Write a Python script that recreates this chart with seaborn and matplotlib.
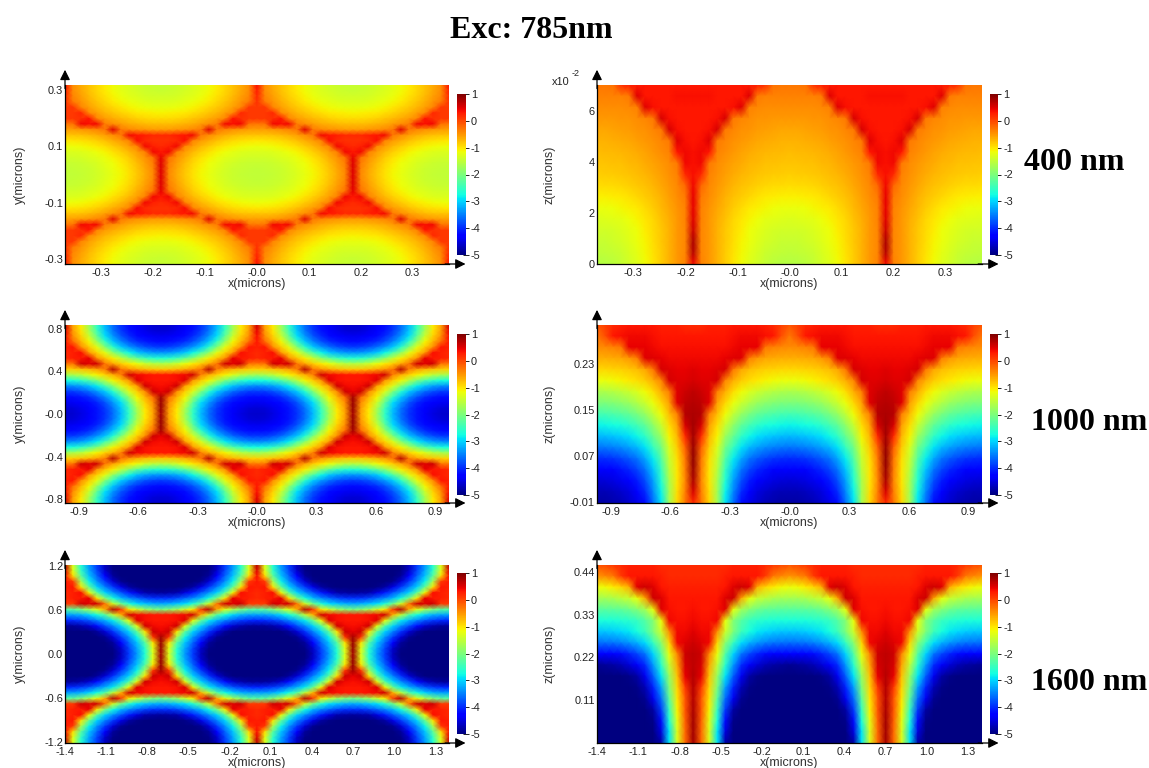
import numpy as np
import seaborn as sns
import matplotlib.pyplot as plt

# Field values (log scale).
# xy tables: top edge to centre row, left cusp column to the next cusp.
XY_400 = [
    [0.35, -0.44, -0.62, -0.78, -0.92, -1.04, -1.15, -1.24, -1.32, -1.38, -1.42, -1.44, -1.45],
    [0.25, -0.43, -0.6, -0.76, -0.9, -1.03, -1.14, -1.23, -1.3, -1.36, -1.4, -1.43, -1.44],
    [0.2, -0.39, -0.56, -0.72, -0.86, -0.99, -1.09, -1.18, -1.26, -1.32, -1.36, -1.38, -1.39],
    [0.15, -0.32, -0.49, -0.65, -0.79, -0.91, -1.02, -1.11, -1.19, -1.25, -1.29, -1.31, -1.32],
    [0.1, 0.1, -0.39, -0.55, -0.69, -0.81, -0.92, -1.01, -1.09, -1.15, -1.19, -1.21, -1.22],
    [0.1, 0.1, 0.2, -0.42, -0.56, -0.69, -0.79, -0.88, -0.96, -1.02, -1.06, -1.08, -1.09],
    [0.1, 0.1, 0.15, 0.3, -0.4, -0.53, -0.64, -0.73, -0.8, -0.86, -0.9, -0.93, -0.93],
    [-0.29, -0.28, 0.4, 0.35, 0.4, -0.34, -0.45, -0.54, -0.62, -0.67, -0.72, -0.74, -0.75],
    [-0.56, -0.55, -0.52, -0.47, -0.4, -0.32, 0.5, -0.33, -0.4, -0.46, -0.5, -0.53, -0.53],
    [-0.8, -0.8, -0.77, -0.72, -0.65, -0.56, -0.45, -0.33, 0.4, 0.3, 0.25, 0.2, 0.2],
    [-1.02, -1.01, -0.98, -0.93, -0.86, -0.77, -0.66, -0.54, -0.39, 0.35, 0.2, 0.15, 0.15],
    [-1.18, -1.17, -1.15, -1.1, -1.03, -0.95, -0.84, -0.72, -0.57, -0.4, 0.4, 0.25, 0.2],
    [-1.31, -1.3, -1.28, -1.23, -1.17, -1.09, -0.99, -0.86, -0.72, -0.55, -0.36, 0.4, 0.3],
    [-1.39, -1.38, -1.36, -1.32, -1.26, -1.19, -1.09, -0.98, -0.83, -0.66, -0.48, -0.27, 0.45],
    [-1.46, -1.45, -1.43, -1.39, -1.33, -1.25, -1.16, -1.05, -0.91, -0.74, -0.56, -0.35, 0.5],
    [-1.49, -1.48, -1.46, -1.42, -1.36, -1.29, -1.2, -1.1, -0.96, -0.79, -0.61, -0.4, 0.5],
    [-1.5, -1.49, -1.47, -1.43, -1.37, -1.3, -1.22, -1.11, -0.97, -0.81, -0.62, -0.42, 0.5],
]
XY_1000 = [
    [0.6, -0.58, -1.04, -1.74, -2.55, -3.17, -3.61, -3.96, -4.18, -4.35, -4.48, -4.57, -4.6],
    [0.45, -0.54, -1.0, -1.65, -2.46, -3.1, -3.55, -3.92, -4.14, -4.31, -4.43, -4.52, -4.55],
    [0.35, -0.43, -0.88, -1.42, -2.21, -2.93, -3.38, -3.75, -4.01, -4.18, -4.31, -4.38, -4.4],
    [0.3, -0.24, -0.7, -1.11, -1.81, -2.53, -3.08, -3.46, -3.76, -3.98, -4.1, -4.17, -4.2],
    [0.25, 0.3, -0.43, -0.84, -1.25, -1.95, -2.57, -3.04, -3.35, -3.59, -3.76, -3.87, -3.9],
    [0.2, 0.25, 0.35, -0.51, -0.88, -1.23, -1.84, -2.35, -2.79, -3.06, -3.23, -3.34, -3.37],
    [0.2, 0.25, 0.3, 0.45, -0.47, -0.8, -1.08, -1.46, -1.88, -2.21, -2.45, -2.6, -2.65],
    [-0.29, -0.27, 0.6, 0.5, 0.6, -0.31, -0.59, -0.83, -1.03, -1.18, -1.4, -1.54, -1.59],
    [-0.88, -0.86, -0.8, -0.7, -0.55, -0.35, 0.7, -0.27, -0.47, -0.6, -0.72, -0.8, -0.82],
    [-1.72, -1.67, -1.54, -1.3, -1.09, -0.89, -0.65, -0.37, 0.6, 0.4, 0.35, 0.3, 0.3],
    [-2.75, -2.71, -2.56, -2.31, -1.98, -1.56, -1.13, -0.84, -0.51, 0.5, 0.35, 0.3, 0.3],
    [-3.43, -3.39, -3.29, -3.11, -2.86, -2.42, -1.91, -1.3, -0.91, -0.55, 0.6, 0.4, 0.35],
    [-3.92, -3.9, -3.8, -3.62, -3.38, -3.07, -2.62, -2.0, -1.3, -0.87, -0.45, 0.6, 0.45],
    [-4.2, -4.18, -4.11, -4.0, -3.78, -3.47, -3.1, -2.55, -1.84, -1.12, -0.71, -0.25, 0.8],
    [-4.4, -4.38, -4.31, -4.19, -4.02, -3.76, -3.38, -2.94, -2.22, -1.43, -0.89, -0.43, 0.85],
    [-4.55, -4.52, -4.43, -4.31, -4.14, -3.92, -3.55, -3.1, -2.47, -1.66, -1.0, -0.54, 0.85],
    [-4.6, -4.57, -4.48, -4.35, -4.15, -3.96, -3.61, -3.17, -2.55, -1.74, -1.04, -0.58, 0.8],
]
XY_1600 = [
    [0.7, -1.3, -2.65, -3.35, -3.9, -4.65, -5.0, -5.0, -5.0, -5.0, -5.0, -5.0, -5.0],
    [0.5, -1.25, -2.55, -3.25, -3.85, -4.6, -4.95, -5.0, -5.0, -5.0, -5.0, -5.0, -5.0],
    [0.35, -0.95, -2.25, -3.1, -3.65, -4.3, -4.85, -5.0, -5.0, -5.0, -5.0, -5.0, -5.0],
    [0.3, 0.1, -1.65, -2.8, -3.4, -3.9, -4.55, -4.9, -5.0, -5.0, -5.0, -5.0, -5.0],
    [0.25, 0.3, -1.0, -2.15, -3.0, -3.5, -3.9, -4.45, -4.8, -4.95, -5.0, -5.0, -5.0],
    [0.2, 0.25, 0.35, -1.15, -2.25, -3.0, -3.4, -3.75, -4.1, -4.5, -4.75, -4.8, -4.85],
    [0.2, 0.25, 0.3, 0.45, -1.05, -2.0, -2.75, -3.15, -3.45, -3.65, -3.85, -3.95, -3.95],
    [0.1, 0.1, 0.6, 0.5, 0.6, -0.3, -1.35, -2.1, -2.65, -2.95, -3.1, -3.2, -3.25],
    [-2.3, -2.25, -2.0, -1.65, -1.25, -0.6, 0.7, 0.1, -1.05, -1.4, -1.75, -1.95, -2.05],
    [-3.3, -3.3, -3.2, -3.0, -2.75, -2.3, -1.5, -0.7, 0.6, 0.4, 0.35, 0.3, 0.3],
    [-4.05, -4.0, -3.9, -3.75, -3.5, -3.2, -2.85, -2.15, -1.15, 0.5, 0.35, 0.3, 0.3],
    [-4.85, -4.85, -4.75, -4.6, -4.2, -3.8, -3.45, -3.0, -2.35, -1.25, 0.6, 0.4, 0.35],
    [-5.0, -5.0, -5.0, -5.0, -4.85, -4.55, -3.95, -3.5, -3.0, -2.2, -1.0, 0.6, 0.45],
    [-5.0, -5.0, -5.0, -5.0, -5.0, -4.9, -4.55, -3.9, -3.4, -2.8, -1.7, 0.1, 0.8],
    [-5.0, -5.0, -5.0, -5.0, -5.0, -5.0, -4.85, -4.3, -3.65, -3.1, -2.3, -1.0, 0.85],
    [-5.0, -5.0, -5.0, -5.0, -5.0, -5.0, -4.95, -4.6, -3.85, -3.25, -2.6, -1.25, 0.85],
    [-5.0, -5.0, -5.0, -5.0, -5.0, -5.0, -5.0, -4.65, -3.9, -3.35, -2.65, -1.3, 0.8],
]
# xz tables: top row to bottom row, centre of the dome to the cusp.
XZ_400 = [
    [-0.3, -0.3, -0.28, 0.15, 0.25, 0.28, 0.3, 0.3, 0.3, 0.3, 0.3, 0.3, 0.3],
    [-0.38, -0.38, -0.37, -0.36, -0.33, 0.5, 0.3, 0.3, 0.3, 0.3, 0.35, 0.35, 0.35],
    [-0.45, -0.45, -0.44, -0.43, -0.41, -0.37, 0.5, 0.35, 0.3, 0.3, 0.3, 0.3, 0.3],
    [-0.52, -0.52, -0.51, -0.5, -0.48, -0.45, -0.4, -0.33, 0.55, 0.35, 0.3, 0.3, 0.3],
    [-0.6, -0.6, -0.58, -0.57, -0.54, -0.5, -0.46, -0.4, -0.33, 0.55, 0.35, 0.3, 0.3],
    [-0.68, -0.67, -0.66, -0.64, -0.61, -0.57, -0.52, -0.46, -0.4, -0.33, 0.5, 0.35, 0.3],
    [-0.74, -0.73, -0.72, -0.7, -0.67, -0.63, -0.58, -0.52, -0.45, -0.38, 0.3, 0.4, 0.35],
    [-0.8, -0.79, -0.78, -0.76, -0.73, -0.69, -0.64, -0.58, -0.51, -0.43, -0.33, 0.4, 0.35],
    [-0.86, -0.85, -0.84, -0.82, -0.79, -0.75, -0.7, -0.63, -0.55, -0.47, -0.38, 0.2, 0.35],
    [-0.95, -0.94, -0.93, -0.9, -0.87, -0.82, -0.76, -0.69, -0.6, -0.51, -0.41, -0.2, 0.4],
    [-1.08, -1.07, -1.05, -1.02, -0.98, -0.92, -0.85, -0.77, -0.67, -0.56, -0.45, -0.32, 0.45],
    [-1.2, -1.19, -1.17, -1.13, -1.08, -1.02, -0.94, -0.84, -0.73, -0.61, -0.48, -0.36, 0.45],
    [-1.3, -1.29, -1.27, -1.23, -1.17, -1.1, -1.01, -0.9, -0.78, -0.65, -0.51, -0.38, 0.5],
    [-1.38, -1.37, -1.35, -1.3, -1.24, -1.16, -1.06, -0.94, -0.81, -0.67, -0.52, -0.39, 0.6],
    [-1.45, -1.44, -1.41, -1.36, -1.29, -1.2, -1.09, -0.96, -0.82, -0.67, -0.52, -0.39, 0.75],
    [-1.52, -1.5, -1.47, -1.42, -1.34, -1.24, -1.12, -0.98, -0.83, -0.67, -0.52, -0.39, 0.7],
    [-1.6, -1.58, -1.54, -1.48, -1.39, -1.28, -1.15, -1.0, -0.84, -0.68, -0.52, -0.38, 0.4],
]
XZ_1000 = [
    [-0.1, 0.05, 0.2, 0.25, 0.3, 0.3, 0.3, 0.3, 0.25, 0.25, 0.25, 0.2, 0.2],
    [-0.3, -0.05, 0.3, 0.35, 0.4, 0.4, 0.4, 0.35, 0.3, 0.3, 0.3, 0.3, 0.3],
    [-0.45, -0.42, -0.38, -0.3, 0.45, 0.45, 0.45, 0.4, 0.35, 0.35, 0.35, 0.35, 0.35],
    [-0.65, -0.65, -0.62, -0.6, -0.52, -0.35, 0.5, 0.5, 0.45, 0.4, 0.4, 0.4, 0.4],
    [-0.9, -0.9, -0.88, -0.86, -0.82, -0.75, -0.6, -0.3, 0.55, 0.5, 0.45, 0.45, 0.5],
    [-1.2, -1.18, -1.15, -1.1, -1.03, -0.95, -0.85, -0.65, -0.4, 0.55, 0.5, 0.5, 0.55],
    [-1.65, -1.63, -1.6, -1.53, -1.43, -1.3, -1.15, -0.95, -0.65, -0.35, 0.5, 0.6, 0.65],
    [-2.0, -1.98, -1.95, -1.88, -1.78, -1.62, -1.42, -1.2, -0.9, -0.55, 0.5, 0.65, 0.7],
    [-2.4, -2.38, -2.35, -2.28, -2.17, -2.02, -1.8, -1.5, -1.15, -0.75, -0.35, 0.7, 0.75],
    [-2.8, -2.78, -2.75, -2.68, -2.58, -2.42, -2.2, -1.85, -1.45, -0.95, -0.55, 0.55, 0.8],
    [-3.15, -3.13, -3.1, -3.03, -2.93, -2.78, -2.55, -2.15, -1.75, -1.1, -0.7, 0.2, 0.8],
    [-3.55, -3.53, -3.5, -3.42, -3.3, -3.15, -2.9, -2.5, -2.05, -1.3, -0.85, -0.15, 0.85],
    [-4.0, -3.98, -3.93, -3.85, -3.72, -3.55, -3.25, -2.85, -2.3, -1.45, -0.95, -0.3, 0.9],
    [-4.3, -4.28, -4.23, -4.15, -4.02, -3.85, -3.55, -3.1, -2.5, -1.55, -1.0, -0.35, 0.85],
    [-4.55, -4.52, -4.47, -4.4, -4.28, -4.1, -3.8, -3.3, -2.65, -1.65, -1.0, -0.4, 0.75],
    [-4.7, -4.7, -4.65, -4.6, -4.5, -4.3, -4.0, -3.45, -2.8, -1.7, -0.95, -0.35, 0.55],
    [-4.8, -4.8, -4.75, -4.7, -4.6, -4.45, -4.2, -3.6, -2.9, -1.7, -0.9, -0.3, 0.2],
]
XZ_1600 = [
    [-0.1, 0.0, 0.1, 0.2, 0.25, 0.25, 0.25, 0.25, 0.2, 0.2, 0.2, 0.2, 0.2],
    [-0.5, -0.4, -0.3, 0.1, 0.3, 0.3, 0.3, 0.3, 0.25, 0.2, 0.2, 0.2, 0.2],
    [-1.2, -1.15, -1.05, -0.9, -0.65, 0.5, 0.6, 0.5, 0.3, 0.25, 0.25, 0.25, 0.25],
    [-1.7, -1.7, -1.65, -1.55, -1.45, -1.2, -0.6, 0.6, 0.5, 0.3, 0.3, 0.3, 0.3],
    [-2.25, -2.25, -2.23, -2.2, -2.1, -1.95, -1.7, -1.2, 0.5, 0.35, 0.3, 0.3, 0.35],
    [-2.7, -2.7, -2.68, -2.65, -2.6, -2.5, -2.3, -1.95, -1.2, 0.4, 0.35, 0.35, 0.4],
    [-3.1, -3.08, -3.05, -2.98, -2.87, -2.72, -2.45, -2.0, -1.4, -0.45, 0.4, 0.4, 0.5],
    [-3.6, -3.58, -3.55, -3.48, -3.36, -3.2, -2.95, -2.5, -1.9, -0.9, 0.4, 0.5, 0.6],
    [-4.3, -4.28, -4.25, -4.18, -4.05, -3.85, -3.55, -3.0, -2.3, -1.2, -0.4, 0.6, 0.65],
    [-4.9, -4.85, -4.8, -4.7, -4.55, -4.35, -4.0, -3.35, -2.6, -1.5, -0.6, 0.55, 0.65],
    [-5.0, -5.0, -5.0, -5.0, -4.95, -4.8, -4.4, -3.7, -2.9, -1.8, -0.8, 0.45, 0.7],
    [-5.0, -5.0, -5.0, -5.0, -5.0, -4.95, -4.7, -4.05, -3.3, -2.0, -0.9, 0.1, 0.7],
    [-5.0, -5.0, -5.0, -5.0, -5.0, -5.0, -4.9, -4.4, -3.6, -2.25, -1.0, -0.1, 0.7],
    [-5.0, -5.0, -5.0, -5.0, -5.0, -5.0, -5.0, -4.8, -3.9, -2.5, -1.1, -0.1, 0.75],
    [-5.0, -5.0, -5.0, -5.0, -5.0, -5.0, -5.0, -4.95, -4.2, -2.7, -1.25, -0.15, 0.8],
    [-5.0, -5.0, -5.0, -5.0, -5.0, -5.0, -5.0, -5.0, -4.5, -2.9, -1.3, -0.2, 0.8],
    [-5.0, -5.0, -5.0, -5.0, -5.0, -5.0, -5.0, -5.0, -4.8, -2.9, -1.3, -0.2, 0.8],
]

# Axis labels
X_400 = ["-0.3", "-0.2", "-0.1", "-0.0", "0.1", "0.2", "0.3"]
X_1000 = ["-0.9", "-0.6", "-0.3", "-0.0", "0.3", "0.6", "0.9"]
X_1600 = ["-1.4", "-1.1", "-0.8", "-0.5", "-0.2", "0.1", "0.4", "0.7", "1.0", "1.3"]
Y_400 = ["0.3", "0.1", "-0.1", "-0.3"]
Y_1000 = ["0.8", "0.4", "-0.0", "-0.4", "-0.8"]
Y_1600 = ["1.2", "0.6", "0.0", "-0.6", "-1.2"]
Z_400 = ["6", "4", "2", "0"]
Z_1000 = ["0.23", "0.15", "0.07", "-0.01"]
Z_1600 = ["0.44", "0.33", "0.22", "0.11"]
CBAR_TICKS = [1, 0, -1, -2, -3, -4, -5]
CBAR_LABELS = ["1", "0", "-1", "-2", "-3", "-4", "-5"]
ROW_TITLES = ["400 nm", "1000 nm", "1600 nm"]

W, H = 1149, 768
TICK_COLOR = "#222222"


def px_axes(fig, left, top, right, bottom):
    return fig.add_axes([left / W, 1 - bottom / H, (right - left) / W, (bottom - top) / H])


def mirror_xy(table):
    half = np.array(table, dtype=float)
    half = np.hstack([half, half[:, -2::-1]])
    full = np.hstack([half[:, :0:-1], half])
    return np.vstack([full, full[-2::-1]])


def mirror_xz(table):
    half = np.array(table, dtype=float)
    half = np.hstack([half, half[:, -2::-1]])
    return np.hstack([half[:, :0:-1], half])


def minor_range(lo, hi, step):
    first = np.ceil(lo / step)
    last = np.floor(hi / step)
    return np.arange(first, last + 1) * step


def draw_panel(fig, box, cbox, grid, xlim, ylim, xlabels, ylabels, xminor, yminor, ylabel, ylabel_x):
    ax = px_axes(fig, *box)
    cax = px_axes(fig, *cbox)
    sns.heatmap(grid, ax=ax, cmap="jet", vmin=-5, vmax=1, shading="gouraud",
                xticklabels=False, yticklabels=False, cbar=True, cbar_ax=cax,
                cbar_kws={"ticks": CBAR_TICKS})
    rows, cols = grid.shape
    ax.set_xlim(0, cols - 1)
    ax.set_ylim(rows - 1, 0)

    # data units to grid index
    def gx(v):
        return (np.asarray(v, dtype=float) - xlim[0]) / (xlim[1] - xlim[0]) * (cols - 1)

    def gy(v):
        return (ylim[1] - np.asarray(v, dtype=float)) / (ylim[1] - ylim[0]) * (rows - 1)

    ax.set_xticks(gx([float(s) for s in xlabels]))
    ax.set_xticklabels(xlabels)
    ax.set_yticks(gy([float(s) for s in ylabels]))
    ax.set_yticklabels(ylabels)
    if xminor:
        ax.set_xticks(gx(minor_range(xlim[0], xlim[1], xminor)), minor=True)
    if yminor:
        ax.set_yticks(gy(minor_range(ylim[0], ylim[1], yminor)), minor=True)

    ax.tick_params(which="major", direction="in", length=3.5, width=0.7, color=TICK_COLOR,
                   labelsize=7.9, labelcolor=TICK_COLOR)
    ax.tick_params(which="minor", direction="in", length=2.2, width=0.6, color=TICK_COLOR)
    ax.tick_params(axis="x", which="major", pad=3)
    ax.tick_params(axis="y", which="major", pad=1.5)

    for side in ["left", "bottom"]:
        ax.spines[side].set_visible(True)
        ax.spines[side].set_linewidth(0.9)
        ax.spines[side].set_color("black")

    # arrow heads on the axes
    arrow = dict(arrowstyle="-|>", color="black", lw=0.9, shrinkA=0, shrinkB=0, mutation_scale=15)
    ax.annotate("", xy=(0, 1.085), xytext=(0, 0.98), xycoords="axes fraction", arrowprops=arrow)
    ax.annotate("", xy=(1.043, 0), xytext=(0.99, 0), xycoords="axes fraction", arrowprops=arrow)

    ax.set_xlabel("x(microns)", fontsize=9, color="#333333")
    ax.set_ylabel(ylabel, fontsize=9, color="#333333")
    ax.xaxis.set_label_coords(0.5, -0.078)
    ax.yaxis.set_label_coords(ylabel_x, 0.5)

    cax.set_yticks(CBAR_TICKS)
    cax.set_yticklabels(CBAR_LABELS)
    cax.tick_params(direction="inout", length=5, width=0.7, color=TICK_COLOR, pad=1,
                    labelsize=7.9, labelcolor=TICK_COLOR)
    return ax


sns.set_theme(style="ticks")
plt.rcParams["font.family"] = ["Liberation Sans", "DejaVu Sans"]

fig = plt.figure(figsize=(W / 100, H / 100), dpi=100)

LEFT_X = (65, 449)
RIGHT_X = (597, 982)
LEFT_CB = (457, 466)
RIGHT_CB = (990, 998.5)
ROWS_Y = [(85, 264), (325, 503), (565, 743)]
CBARS_Y = [(94, 255), (334, 495), (573, 734)]

xy_tables = [XY_400, XY_1000, XY_1600]
xz_tables = [XZ_400, XZ_1000, XZ_1600]
x_labels = [X_400, X_1000, X_1600]
xlims = [(-0.37, 0.37), (-0.968, 0.968), (-1.4, 1.4)]
x_minor = [None, 0.1, None]
y_labels = [Y_400, Y_1000, Y_1600]
ylims = [(-0.317, 0.317), (-0.837, 0.837), (-1.22, 1.22)]
y_minor = [0.1, 0.2, 0.1]
z_labels = [Z_400, Z_1000, Z_1600]
zlims = [(0, 7.02), (-0.0117, 0.298), (0, 0.458)]
z_minor = [1, 0.01, 0.01]

for i in range(3):
    top, bottom = ROWS_Y[i]
    ctop, cbottom = CBARS_Y[i]
    draw_panel(fig, (LEFT_X[0], top, LEFT_X[1], bottom), (LEFT_CB[0], ctop, LEFT_CB[1], cbottom),
               mirror_xy(xy_tables[i]), xlims[i], ylims[i], x_labels[i], y_labels[i],
               x_minor[i], y_minor[i], "y(microns)", -0.102)
    draw_panel(fig, (RIGHT_X[0], top, RIGHT_X[1], bottom), (RIGHT_CB[0], ctop, RIGHT_CB[1], cbottom),
               mirror_xz(xz_tables[i]), xlims[i], zlims[i], x_labels[i], z_labels[i],
               x_minor[i], z_minor[i], "z(microns)", -0.109)

# exponent of the top right axis
fig.text(552 / W, 1 - 82 / H, "x10", fontsize=7.9, color=TICK_COLOR, va="center")
fig.text(572 / W, 1 - 73 / H, "-2", fontsize=6.5, color=TICK_COLOR, va="center")

serif = {"family": "Liberation Serif", "weight": "bold", "fontsize": 23, "color": "black"}
fig.text(531 / W, 1 - 31 / H, "Exc: 785nm", ha="center", va="center", **serif)
fig.text(1024 / W, 1 - 163 / H, ROW_TITLES[0], ha="left", va="center", **serif)
fig.text(1031 / W, 1 - 423 / H, ROW_TITLES[1], ha="left", va="center", **serif)
fig.text(1031 / W, 1 - 683 / H, ROW_TITLES[2], ha="left", va="center", **serif)

fig.savefig("out.png", dpi=100)
